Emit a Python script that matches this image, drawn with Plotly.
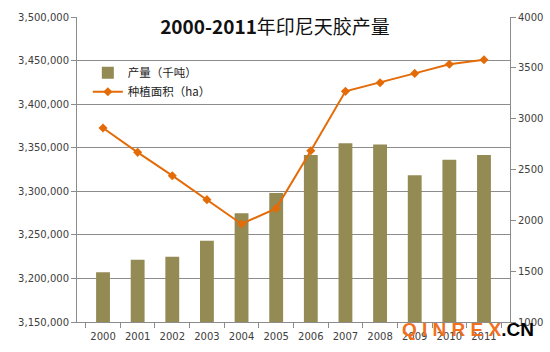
import plotly.graph_objects as go

years = ["2000", "2001", "2002", "2003", "2004", "2005", "2006", "2007", "2008", "2009", "2010", "2011"]
production = [1489, 1613, 1642, 1800, 2069, 2269, 2643, 2757, 2747, 2443, 2597, 2643]
area = [3372600, 3344700, 3317900, 3290400, 3262500, 3280400, 3346600, 3414700, 3424600, 3435300, 3445700, 3451000]
left_ticks = [3150000, 3200000, 3250000, 3300000, 3350000, 3400000, 3450000, 3500000]
right_ticks = [1000, 1500, 2000, 2500, 3000, 3500, 4000]
left_range = [3150000, 3500000]
right_range = [1000, 4000]

tick_font = dict(family="DejaVu Sans", size=10, color="#404040")
grid_col = "#8c8c8c"

fig = go.Figure()
# invisible carrier trace for the primary (grid) axis
fig.add_trace(go.Scatter(
    x=years, y=area, yaxis="y", mode="lines", opacity=0,
    showlegend=False, hoverinfo="skip", line=dict(width=0),
))
fig.add_trace(go.Bar(
    x=years, y=production, name="产量（千吨）", yaxis="y2",
    marker=dict(color="#948a54", line=dict(width=0)),
))
fig.add_trace(go.Scatter(
    x=years, y=area, name="种植面积（ha）", yaxis="y3",
    mode="lines+markers",
    line=dict(color="#e36c09", width=2),
    marker=dict(symbol="diamond", size=7, color="#e36c09"),
))

pw, ph = 550 - 77 - 40, 352 - 17 - 30

fig.update_layout(
    width=550, height=352,
    margin=dict(l=77, r=40, t=17, b=30, autoexpand=False),
    paper_bgcolor="white", plot_bgcolor="white",
    bargap=0.6,
    showlegend=True,
    legend=dict(
        x=0.025, y=0.865, xanchor="left", yanchor="top",
        bgcolor="rgba(0,0,0,0)",
        font=dict(family="Noto Sans CJK SC", size=11.5, color="#222"),
        tracegroupgap=0, itemwidth=30,
    ),
    title=dict(
        text="<b>2000-2011</b>年印尼天胶产量",
        x=0.5, xref="container", xanchor="center",
        y=1 - 27 / 352, yref="container", yanchor="middle",
        font=dict(family="Noto Sans CJK SC", size=19, color="#111"),
    ),
    xaxis=dict(
        type="category", showgrid=False,
        showline=True, linecolor=grid_col, linewidth=1,
        ticks="outside", tickson="boundaries", ticklen=5, tickcolor=grid_col,
        tickfont=tick_font, tickangle=0, automargin=False, ticklabelstandoff=5,
    ),
    yaxis=dict(
        side="left", range=left_range,
        tickvals=left_ticks, ticktext=[f"{v:,}" for v in left_ticks],
        showgrid=True, gridcolor=grid_col, gridwidth=1,
        showline=True, linecolor=grid_col, linewidth=1,
        ticks="outside", ticklen=5, tickcolor=grid_col,
        tickfont=tick_font, zeroline=False, automargin=False,
    ),
    yaxis2=dict(
        overlaying="y", side="right", range=right_range,
        tickvals=right_ticks, ticktext=[str(v) for v in right_ticks],
        showgrid=False,
        showline=True, linecolor=grid_col, linewidth=1,
        ticks="outside", ticklen=5, tickcolor=grid_col,
        tickfont=tick_font, zeroline=False, automargin=False,
    ),
    yaxis3=dict(
        overlaying="y", side="left", range=left_range,
        visible=False, showgrid=False, zeroline=False,
    ),
    annotations=[
        dict(
            text="<b><span style='color:#f07020'>Q I N R E X</span><span style='color:#000'>.CN</span></b>",
            x=(536 - 77) / pw, y=(322 - 329) / ph, xref="paper", yref="paper",
            xanchor="right", yanchor="middle",
            showarrow=False, font=dict(family="Liberation Sans", size=19, color="#000"),
        )
    ],
)

fig.write_html("out.html")
